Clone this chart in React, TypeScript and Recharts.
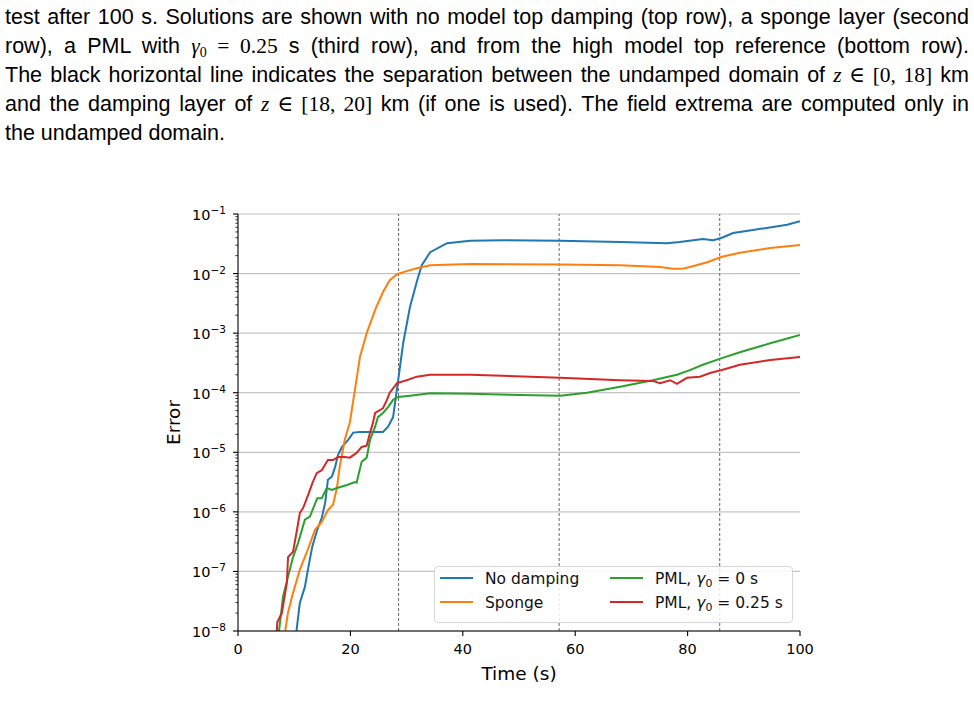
import React from 'react';
import {
  LineChart,
  Line,
  XAxis,
  YAxis,
  CartesianGrid,
  ReferenceLine,
  Legend,
} from 'recharts';

// ---------- data ----------
const noDampingTime = [10.4, 11.0, 11.9, 12.5, 13.2, 14.1, 14.9, 15.5, 16.0, 16.7, 17.3, 17.8, 18.5, 19.6, 20.5, 21.7, 23.5, 25.8, 26.7, 27.6, 28.5, 29.4, 30.6, 31.9, 32.7, 34.2, 37.2, 41.3, 47.2, 57.3, 68.0, 76.3, 78.6, 81.0, 82.7, 84.5, 85.4, 86.3, 88.1, 91.6, 97.7, 100];
const noDampingError = [1.0e-8, 2.95e-8, 5.5e-8, 1.15e-7, 2.57e-7, 5.0e-7, 7.9e-7, 1.41e-6, 3.47e-6, 3.9e-6, 5.75e-6, 9.1e-6, 1.23e-5, 1.62e-5, 2.14e-5, 2.19e-5, 2.19e-5, 2.19e-5, 2.69e-5, 3.9e-5, 1.62e-4, 6.9e-4, 2.75e-3, 7.8e-3, 1.38e-2, 2.29e-2, 3.24e-2, 3.55e-2, 3.63e-2, 3.55e-2, 3.39e-2, 3.24e-2, 3.39e-2, 3.63e-2, 3.8e-2, 3.63e-2, 3.8e-2, 4.07e-2, 4.79e-2, 5.37e-2, 6.61e-2, 7.59e-2];

const spongeTime = [8.4, 8.9, 9.8, 11.0, 12.2, 13.7, 14.9, 16.0, 16.9, 17.6, 18.1, 19.0, 19.9, 20.8, 21.7, 22.9, 24.4, 25.8, 27.0, 28.3, 30.0, 31.8, 34.2, 41.3, 57.3, 68.0, 75.1, 77.4, 79.0, 80.4, 83.5, 86.1, 89.3, 94.7, 100];
const spongeError = [1.0e-8, 2.04e-8, 4.37e-8, 1.07e-7, 2.04e-7, 5.0e-7, 6.76e-7, 1.07e-6, 1.32e-6, 2.51e-6, 5.75e-6, 1.62e-5, 3.16e-5, 1.12e-4, 3.98e-4, 1.0e-3, 2.45e-3, 4.9e-3, 7.76e-3, 9.77e-3, 1.1e-2, 1.23e-2, 1.38e-2, 1.45e-2, 1.42e-2, 1.38e-2, 1.29e-2, 1.2e-2, 1.2e-2, 1.29e-2, 1.55e-2, 1.91e-2, 2.24e-2, 2.69e-2, 3.02e-2];

const pml0Time = [7.3, 8.0, 8.9, 9.8, 10.7, 11.9, 12.8, 14.1, 14.9, 15.8, 16.7, 17.6, 19.4, 20.8, 21.1, 22.0, 22.9, 23.5, 24.4, 24.9, 25.8, 26.7, 27.6, 28.5, 30.6, 34.2, 41.3, 50.2, 57.3, 62.1, 68.0, 73.8, 78.1, 80.4, 82.7, 86.1, 89.3, 94.7, 100];
const pml0Error = [1.0e-8, 3.72e-8, 8.13e-8, 1.74e-7, 3.02e-7, 7.41e-7, 8.32e-7, 1.7e-6, 1.7e-6, 2.51e-6, 2.34e-6, 2.51e-6, 2.82e-6, 3.16e-6, 3.09e-6, 6.92e-6, 8.13e-6, 1.62e-5, 2.69e-5, 3.89e-5, 4.57e-5, 5.75e-5, 7.59e-5, 8.51e-5, 8.91e-5, 9.8e-5, 9.6e-5, 9.12e-5, 8.91e-5, 1.0e-4, 1.26e-4, 1.62e-4, 2.0e-4, 2.4e-4, 2.95e-4, 3.8e-4, 4.79e-4, 6.76e-4, 9.33e-4];

const pml025Time = [6.9, 7.0, 7.8, 8.7, 8.9, 9.8, 10.5, 11.0, 11.6, 12.5, 13.3, 14.0, 14.9, 16.0, 16.9, 17.8, 19.0, 19.9, 21.1, 22.0, 22.9, 23.5, 24.0, 24.4, 25.3, 25.8, 26.5, 27.0, 28.3, 30.0, 31.8, 34.2, 41.3, 57.3, 68.0, 73.8, 75.1, 76.9, 78.1, 79.9, 82.2, 84.0, 86.1, 89.3, 94.7, 100];
const pml025Error = [1.0e-8, 1.41e-8, 2.0e-8, 6.46e-8, 1.74e-7, 2.14e-7, 5.0e-7, 9.55e-7, 1.17e-6, 1.95e-6, 3.16e-6, 4.47e-6, 5.0e-6, 7.41e-6, 7.41e-6, 8.32e-6, 8.32e-6, 8.13e-6, 9.77e-6, 1.23e-5, 1.29e-5, 2.14e-5, 3.09e-5, 4.57e-5, 5.13e-5, 5.5e-5, 7.59e-5, 1.0e-4, 1.45e-4, 1.62e-4, 1.86e-4, 2.0e-4, 2.0e-4, 1.78e-4, 1.62e-4, 1.58e-4, 1.45e-4, 1.62e-4, 1.41e-4, 1.78e-4, 1.86e-4, 2.14e-4, 2.4e-4, 2.95e-4, 3.55e-4, 3.98e-4];

const seriesNames = ['No damping', 'Sponge', 'PML, γ0 = 0 s', 'PML, γ0 = 0.25 s'];
const seriesColors = ['#1f77b4', '#ff7f0e', '#2ca02c', '#d62728'];

const xTicks = [0, 20, 40, 60, 80, 100];
const yMajorTicks = [1e-8, 1e-7, 1e-6, 1e-5, 1e-4, 1e-3, 1e-2, 1e-1];
const yMinorMultipliers = [2, 3, 4, 5, 6, 7, 8, 9];
const separationTimes = [28.571, 57.143, 85.714];

const captionLines = [
  'test after 100 s. Solutions are shown with no model top damping (top row), a sponge layer (second',
  'row), a PML with @G = 0.25 s (third row), and from the high model top reference (bottom row).',
  'The black horizontal line indicates the separation between the undamped domain of @Z[0, 18] km',
  'and the damping layer of @Z[18, 20] km (if one is used). The field extrema are computed only in',
  'the undamped domain.',
];

// ---------- derived tables ----------
const zip = (t: number[], e: number[]) => t.map((tv, i) => ({ t: tv, e: e[i] }));
const seriesData = [
  zip(noDampingTime, noDampingError),
  zip(spongeTime, spongeError),
  zip(pml0Time, pml0Error),
  zip(pml025Time, pml025Error),
];
const yAllTicks: number[] = [];
yMajorTicks.forEach((m, i) => {
  yAllTicks.push(m);
  if (i < yMajorTicks.length - 1) yMinorMultipliers.forEach((k) => yAllTicks.push(m * k));
});

const Y_TICK_SIZE = 5;
const Y_TICK_MARGIN = 7;
const FONT = "'DejaVu Sans', sans-serif";
const MATH = "'Liberation Serif', 'DejaVu Serif', serif";

const YTick = (props: any) => {
  const { x, y, payload } = props;
  const v = payload.value as number;
  const lg = Math.log10(v);
  const major = Math.abs(lg - Math.round(lg)) < 1e-6;
  const axisX = x + Y_TICK_MARGIN + Y_TICK_SIZE;
  return (
    <g>
      <line
        x1={axisX - (major ? 5 : 2.6)}
        x2={axisX}
        y1={y}
        y2={y}
        stroke="#000"
        strokeWidth={major ? 1.1 : 0.8}
      />
      {major && (
        <text x={x} y={y + 6} textAnchor="end" fontSize={14.5} fill="#000" fontFamily={FONT}>
          10
          <tspan dy={-6} fontSize={10.5}>
            {'\u2212' + String(-Math.round(lg))}
          </tspan>
        </text>
      )}
    </g>
  );
};

const renderLabelName = (name: string) => {
  const idx = name.indexOf('γ0');
  if (idx < 0) return name;
  return (
    <>
      {name.slice(0, idx)}
      <span style={{ fontStyle: 'italic' }}>γ</span>
      <sub style={{ fontSize: 11, verticalAlign: '-3px' }}>0</sub>
      {name.slice(idx + 2)}
    </>
  );
};

const LegendBox = () => (
  <div
    style={{
      width: 359,
      height: 57,
      border: '1px solid #d6d6d6',
      borderRadius: 4,
      background: 'rgba(255,255,255,0.85)',
      boxSizing: 'border-box',
      position: 'relative',
      fontFamily: FONT,
      fontSize: 15.5,
      color: '#111',
    }}
  >
    {seriesNames.map((name, i) => {
      const col = Math.floor(i / 2);
      const row = i % 2;
      const left = col === 0 ? 5 : 175;
      const top = row === 0 ? 11 : 35;
      return (
        <div key={name} style={{ position: 'absolute', left, top, height: 0 }}>
          <div
            style={{
              position: 'absolute',
              left: 0,
              top: -1,
              width: 33,
              height: 2,
              background: seriesColors[i],
            }}
          />
          <div
            style={{
              position: 'absolute',
              left: 45,
              top: -8,
              whiteSpace: 'nowrap',
              lineHeight: '18px',
            }}
          >
            {renderLabelName(name)}
          </div>
        </div>
      );
    })}
  </div>
);

const renderCaptionLine = (line: string) => {
  const parts: React.ReactNode[] = [];
  let rest = line;
  let k = 0;
  while (rest.length) {
    const g = rest.indexOf('@G');
    const z = rest.indexOf('@Z');
    const cands = [g, z].filter((n) => n >= 0);
    if (!cands.length) {
      parts.push(rest);
      break;
    }
    const p = Math.min(...cands);
    parts.push(rest.slice(0, p));
    if (p === g) {
      parts.push(
        <span key={k++} style={{ fontFamily: MATH }}>
          <i>γ</i>
          <sub style={{ fontSize: 14, verticalAlign: '-4px' }}>0</sub>
          {' = 0.25'}
        </span>
      );
      rest = rest.slice(p + 2 + ' = 0.25'.length);
    } else {
      const end = rest.indexOf(']', p);
      parts.push(
        <span key={k++} style={{ fontFamily: MATH }}>
          <i>z</i>
          {' ∈ ' + rest.slice(p + 2, end + 1)}
        </span>
      );
      rest = rest.slice(end + 1);
    }
  }
  return parts;
};

export default function App() {
  return (
    <div
      style={{
        position: 'absolute',
        left: 0,
        top: 0,
        width: 974,
        height: 719,
        background: '#fff',
        overflow: 'hidden',
      }}
    >
      <div
        style={{
          position: 'absolute',
          left: 5,
          top: 3,
          width: 964,
          fontFamily: "'Liberation Sans', Arial, sans-serif",
          fontSize: 21.5,
          lineHeight: '29px',
          color: '#000',
        }}
      >
        {captionLines.map((line, i) => (
          <div
            key={i}
            style={{
              textAlign: i === captionLines.length - 1 ? 'left' : 'justify',
              textAlignLast: i === captionLines.length - 1 ? 'left' : 'justify',
              height: 29,
              whiteSpace: 'nowrap',
            }}
          >
            {renderCaptionLine(line)}
          </div>
        ))}
      </div>

      <div style={{ position: 'absolute', left: 0, top: 0 }}>
        <LineChart
          width={974}
          height={719}
          margin={{ top: 214, right: 174, bottom: 38, left: 150 }}
        >
          <CartesianGrid
            vertical={false}
            horizontalValues={yMajorTicks}
            stroke="#c4c4c4"
            strokeWidth={1.2}
          />
          <XAxis
            dataKey="t"
            type="number"
            domain={[0, 100]}
            ticks={xTicks}
            interval={0}
            height={50}
            tickSize={5}
            tickMargin={8}
            stroke="#000"
            axisLine={{ stroke: '#000', strokeWidth: 1.1 }}
            tickLine={{ stroke: '#000', strokeWidth: 1.1 }}
            tick={{ fill: '#000', fontSize: 14.5, fontFamily: FONT }}
            allowDataOverflow
            label={{
              value: 'Time (s)',
              position: 'insideBottom',
              offset: 1,
              style: { fill: '#000', fontSize: 18.5, fontFamily: FONT, textAnchor: 'middle' },
            }}
          />
          <XAxis
            xAxisId="top"
            orientation="top"
            type="number"
            domain={[0, 100]}
            height={0}
            tick={false}
            tickLine={false}
            axisLine={{ stroke: '#000', strokeWidth: 1.1 }}
          />
          <YAxis
            type="number"
            scale="log"
            domain={[1e-8, 1e-1]}
            ticks={yAllTicks}
            interval={0}
            allowDataOverflow
            width={88}
            tickSize={Y_TICK_SIZE}
            tickMargin={Y_TICK_MARGIN}
            tickLine={false}
            axisLine={{ stroke: '#000', strokeWidth: 1.1 }}
            tick={<YTick />}
            label={{
              value: 'Error',
              angle: -90,
              position: 'insideLeft',
              offset: 23,
              style: { fill: '#000', fontSize: 18.5, fontFamily: FONT, textAnchor: 'middle' },
            }}
          />
          <YAxis
            yAxisId="right"
            orientation="right"
            type="number"
            scale="log"
            domain={[1e-8, 1e-1]}
            width={0}
            tick={false}
            tickLine={false}
            axisLine={{ stroke: '#000', strokeWidth: 1.1 }}
          />
          {separationTimes.map((t) => (
            <ReferenceLine
              key={t}
              x={t}
              stroke="#555"
              strokeWidth={0.9}
              strokeDasharray="3 2"
              ifOverflow="hidden"
            />
          ))}
          {seriesData.map((d, i) => (
            <Line
              key={seriesNames[i]}
              data={d}
              dataKey="e"
              name={seriesNames[i]}
              type="linear"
              stroke={seriesColors[i]}
              strokeWidth={2}
              dot={false}
              activeDot={false}
              isAnimationActive={false}
            />
          ))}
          <Legend
            layout="horizontal"
            verticalAlign="middle"
            align="center"
            content={<LegendBox />}
            wrapperStyle={{ left: 434, top: 566, width: 359, height: 57 }}
          />
        </LineChart>
      </div>
    </div>
  );
}
